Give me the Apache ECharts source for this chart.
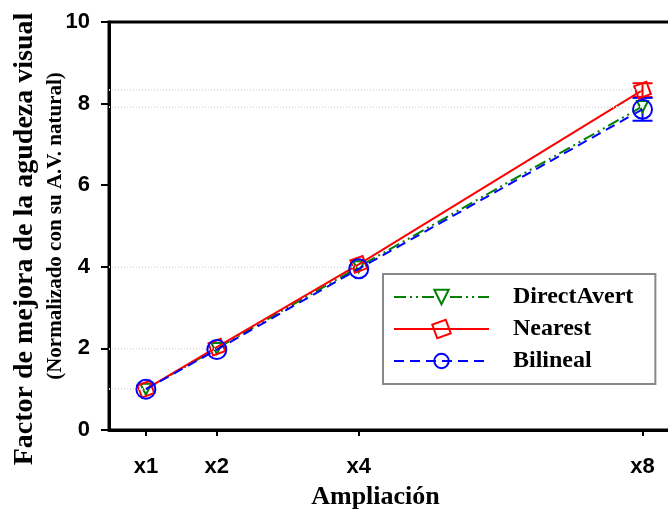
<!DOCTYPE html>
<html>
<head>
<meta charset="utf-8">
<script src="https://cdn.jsdelivr.net/npm/echarts@6/dist/echarts.min.js"></script>
<style>
  html, body { margin: 0; padding: 0; background: #fff; }
  #chart { width: 668px; height: 514px; }
</style>
</head>
<body>
<div id="chart"></div>
<script>
// niveles de ampliacion
const ampliaciones = [1, 2, 4, 8]
const etiquetasX = ['x1', 'x2', 'x4', 'x8']
// factor de mejora (normalizado)
const directAvert = [1.0, 2.0, 4.0, 7.93]
const nearest = [1.0, 2.03, 4.06, 8.33]
const bilineal = [1.0, 1.97, 3.95, 7.86]
// error (solo visible en x8)
const nearestErr = [0, 0, 0, 0.17]
const bilinealErr = [0, 0, 0, 0.28]

const chart = echarts.init(document.getElementById('chart'))

const pares = (ys) => ampliaciones.map((x, i) => [x, ys[i]])
const xMin = 0.48

// lineas punteadas de referencia desde el eje
const refLines = (ys) => ampliaciones.map((x, i) => [
  { coord: [xMin, ys[i]] },
  { coord: [x, ys[i]] }
])

const errorSeries = (ys, errs, color) => ({
  type: 'custom',
  silent: true,
  z: 1,
  data: ampliaciones.map((x, i) => [x, ys[i] - errs[i], ys[i] + errs[i]]).filter((d, i) => errs[i] > 0),
  renderItem: (params, api) => {
    const lo = api.coord([api.value(0), api.value(1)])
    const hi = api.coord([api.value(0), api.value(2)])
    const w = 10
    const st = { stroke: color, lineWidth: 2 }
    return {
      type: 'group',
      children: [
        { type: 'line', shape: { x1: lo[0], y1: lo[1], x2: hi[0], y2: hi[1] }, style: st },
        { type: 'line', shape: { x1: lo[0] - w, y1: lo[1], x2: lo[0] + w, y2: lo[1] }, style: st },
        { type: 'line', shape: { x1: hi[0] - w, y1: hi[1], x2: hi[0] + w, y2: hi[1] }, style: st }
      ]
    }
  }
})

const option = {
  animation: false,
  backgroundColor: '#fff',
  grid: {
    left: 109,
    top: 22,
    right: -10,
    bottom: 84,
    outerBoundsMode: 'none',
    show: true,
    borderColor: '#000',
    borderWidth: 3
  },
  legend: {
    orient: 'vertical',
    left: 383,
    top: 274,
    padding: [11, 22, 11, 10],
    itemGap: 8,
    itemWidth: 95,
    itemHeight: 18,
    borderColor: '#888',
    borderWidth: 2,
    backgroundColor: '#fff',
    data: ['DirectAvert', 'Nearest', 'Bilineal'],
    textStyle: {
      fontFamily: 'Liberation Serif',
      fontWeight: 'bold',
      fontSize: 24,
      color: '#000',
      padding: [0, 0, 0, 19]
    }
  },
  xAxis: {
    type: 'value',
    min: xMin,
    max: 8.5,
    name: 'Ampliación',
    nameLocation: 'middle',
    nameGap: 54,
    nameMoveOverlap: false,
    nameTextStyle: {
      fontFamily: 'Liberation Serif',
      fontWeight: 'bold',
      fontSize: 26,
      color: '#000',
      padding: [0, 36, 0, 0]
    },
    splitLine: { show: false },
    axisLine: { onZero: false, lineStyle: { color: '#000', width: 3 } },
    axisTick: { show: true, customValues: ampliaciones, length: 6, lineStyle: { color: '#000', width: 2 } },
    axisLabel: {
      customValues: ampliaciones,
      margin: 26,
      fontFamily: 'Liberation Sans',
      fontWeight: 'bold',
      fontSize: 22,
      color: '#000',
      formatter: (v) => etiquetasX[ampliaciones.indexOf(v)] || ''
    }
  },
  yAxis: {
    type: 'value',
    min: 0,
    max: 10,
    interval: 2,
    name: '{a|Factor de mejora de la agudeza visual}\n{b|(Normalizado con su A.V. natural)}',
    nameLocation: 'middle',
    nameGap: 42,
    nameMoveOverlap: false,
    nameTextStyle: {
      color: '#000',
      rich: {
        a: { fontFamily: 'Liberation Serif', fontWeight: 'bold', fontSize: 28, color: '#000', lineHeight: 33, padding: [0, 26, 8, 0] },
        b: { fontFamily: 'Liberation Serif', fontWeight: 'bold', fontSize: 21, color: '#000', lineHeight: 22 }
      }
    },
    splitLine: { show: false },
    axisLine: { lineStyle: { color: '#000', width: 3 } },
    axisTick: { length: 8, lineStyle: { color: '#000', width: 2 } },
    axisLabel: {
      margin: 19,
      fontFamily: 'Liberation Sans',
      fontWeight: 'bold',
      fontSize: 22,
      color: '#000'
    }
  },
  series: [
    {
      name: 'DirectAvert',
      type: 'line',
      data: pares(directAvert),
      symbol: 'triangle',
      symbolRotate: 180,
      symbolSize: 11,
      z: 3,
      lineStyle: { color: '#008000', width: 2, type: [12, 4, 2, 4, 2, 4] },
      itemStyle: { color: '#fff', borderColor: '#008000', borderWidth: 2 },
      markLine: {
        silent: true,
        symbol: 'none',
        label: { show: false },
        lineStyle: { color: '#e2e2e2', width: 2, type: [1, 2] },
        data: refLines(directAvert)
      }
    },
    {
      name: 'Nearest',
      type: 'line',
      data: pares(nearest),
      symbol: 'rect',
      symbolRotate: 20,
      symbolSize: 13,
      z: 4,
      lineStyle: { color: '#ff0000', width: 2 },
      itemStyle: { color: 'rgba(255,255,255,0)', borderColor: '#ff0000', borderWidth: 2 },
      markLine: {
        silent: true,
        symbol: 'none',
        label: { show: false },
        lineStyle: { color: '#e2e2e2', width: 2, type: [1, 2] },
        data: refLines(nearest).slice(3)
      }
    },
    {
      name: 'Bilineal',
      type: 'line',
      data: pares(bilineal),
      symbol: 'circle',
      symbolSize: 19,
      z: 5,
      lineStyle: { color: '#0000ff', width: 2, type: [10, 6] },
      itemStyle: { color: 'rgba(255,255,255,0)', borderColor: '#0000ff', borderWidth: 2 }
    },
    errorSeries(nearest, nearestErr, '#ff0000'),
    errorSeries(bilineal, bilinealErr, '#0000ff')
  ]
}

chart.setOption(option)
</script>
</body>
</html>
